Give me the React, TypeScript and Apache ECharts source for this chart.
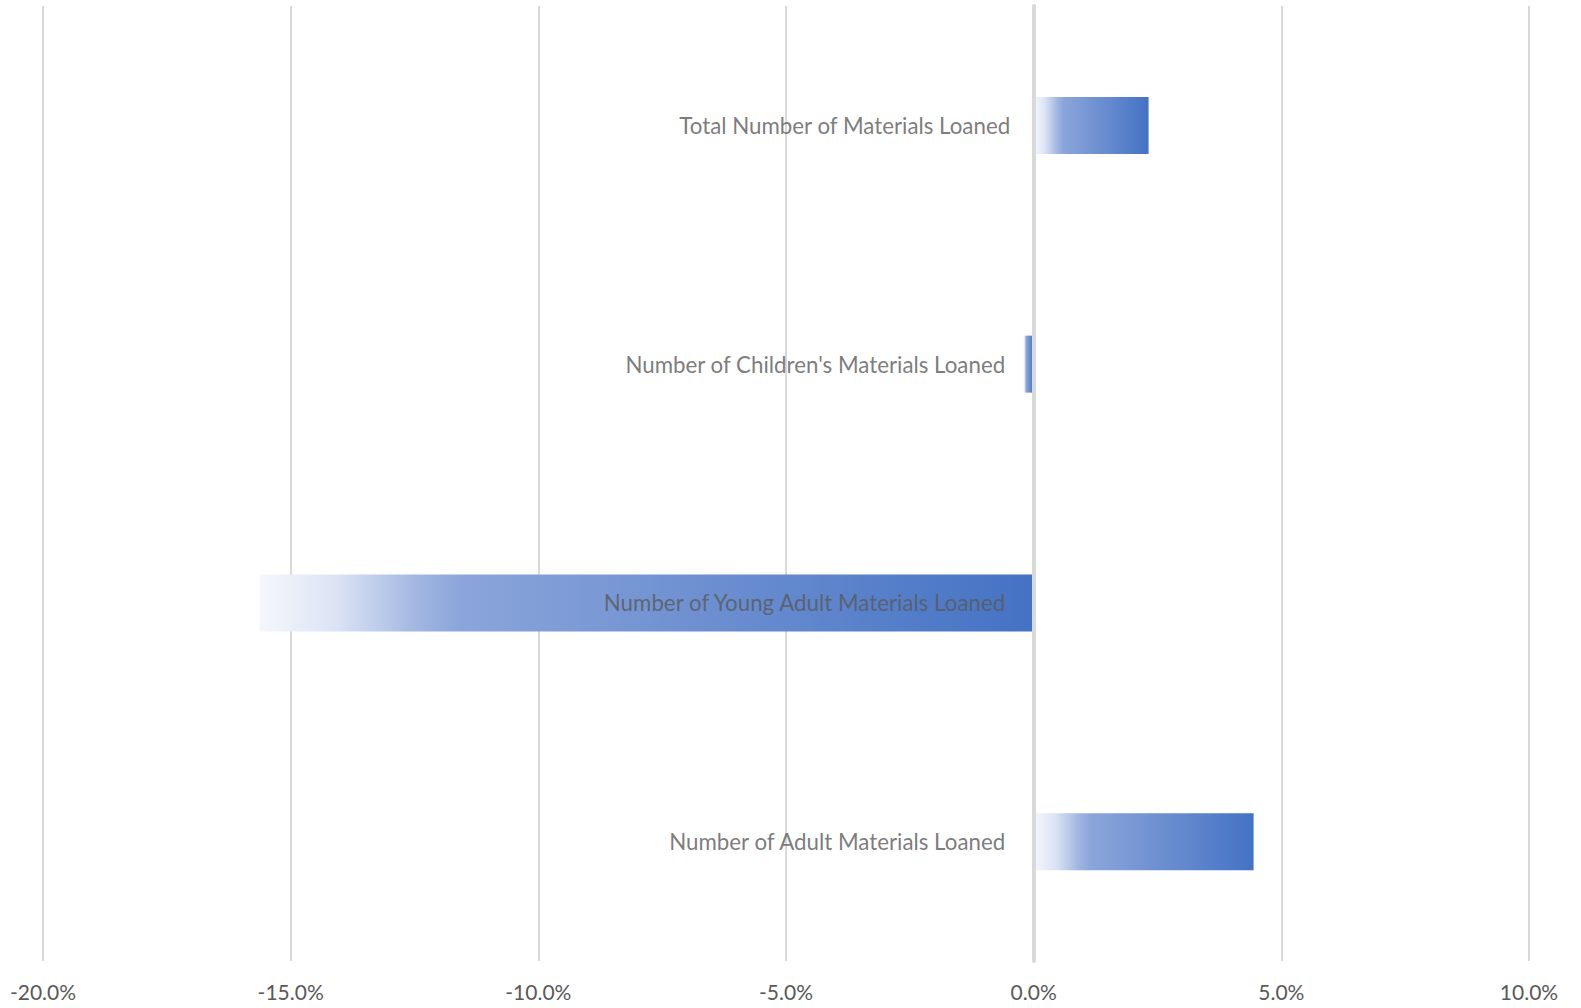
import React, { useEffect, useRef } from "react";
import * as echarts from "echarts";

const categories = [
  "Number of Adult Materials Loaned",
  "Number of Young Adult Materials Loaned",
  "Number of Children's Materials Loaned",
  "Total Number of Materials Loaned",
];
const changePct = [4.44, -15.63, -0.2, 2.32];
const axisMin = -20;
const axisMax = 10;
const axisStep = 5;

export default function App() {
  const ref = useRef<HTMLDivElement>(null);
  useEffect(() => {
    if (!ref.current) return;
    const chart = echarts.init(ref.current, undefined, { renderer: "svg" });
    const grad = new echarts.graphic.LinearGradient(0, 0, 1, 0, [
      { offset: 0, color: "#f5f7fc" },
      { offset: 0.1, color: "#dbe3f4" },
      { offset: 0.2, color: "#a3b8e1" },
      { offset: 0.26, color: "#8ba5da" },
      { offset: 1, color: "#4472c4" },
    ]);
    const labelData = categories.map((c, i) => ({
      value: [0, c],
      label: { distance: i === 3 ? 23 : 28 },
    }));
    chart.setOption({
      animation: false,
      backgroundColor: "#ffffff",
      grid: {
        left: 43,
        right: 52,
        top: 6,
        bottom: 47,
        containLabel: false,
        outerBoundsMode: "none",
      },
      xAxis: {
        type: "value",
        min: axisMin,
        max: axisMax,
        interval: axisStep,
        axisLine: { show: false },
        axisTick: { show: false },
        axisLabel: {
          color: "#595959",
          fontFamily: "Lato",
          fontSize: 21,
          margin: 20,
          formatter: (v: number) => v.toFixed(1) + "%",
        },
        splitLine: { show: true, lineStyle: { color: "#cccccc", width: 1.5 } },
      },
      yAxis: {
        type: "category",
        data: categories,
        z: 3,
        axisLine: { show: true, onZero: true, lineStyle: { color: "#d9d9d9", width: 4 } },
        axisTick: { show: false },
        splitLine: { show: false },
        axisLabel: { show: false },
      },
      series: [
        {
          type: "bar",
          data: changePct,
          barWidth: 57,
          itemStyle: { color: grad },
        },
        {
          type: "scatter",
          data: labelData,
          symbol: "circle",
          symbolSize: 1,
          silent: true,
          z: 5,
          itemStyle: { color: "transparent" },
          label: {
            show: true,
            position: "left",
            formatter: (p: any) => p.value[1],
            color: "#595959",
            fontFamily: "Lato",
            fontSize: 22.3,
          },
        },
      ],
    });
    return () => chart.dispose();
  }, []);
  return (
    <div
      ref={ref}
      style={{ position: "fixed", left: 0, top: 0, width: 1581, height: 1008 }}
    />
  );
}
